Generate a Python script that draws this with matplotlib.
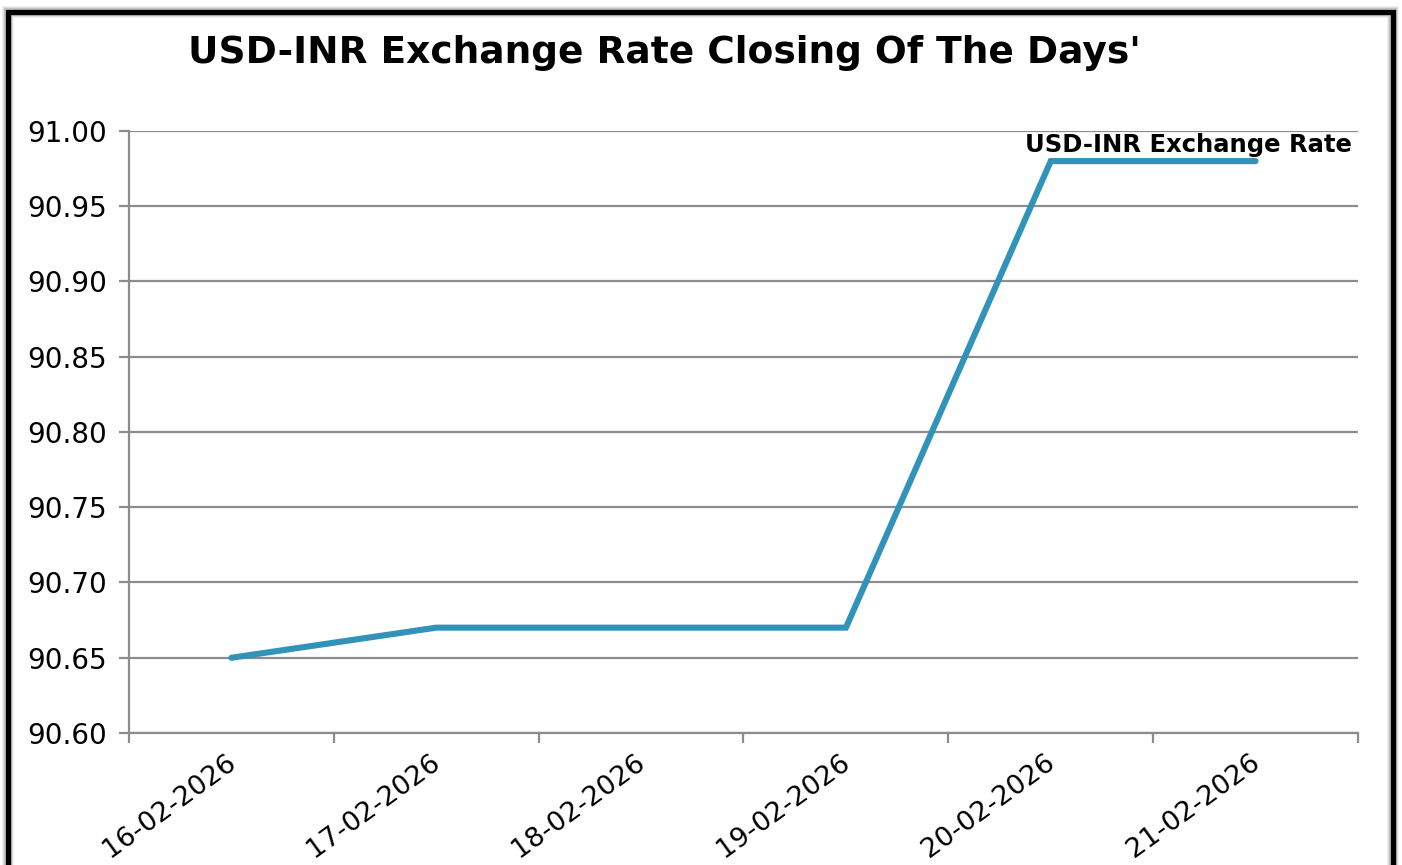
import matplotlib
matplotlib.use("Agg")
import matplotlib.pyplot as plt
import matplotlib.transforms as mtransforms
from matplotlib.patches import Rectangle

# data
dates = ["16-02-2026", "17-02-2026", "18-02-2026", "19-02-2026", "20-02-2026", "21-02-2026"]
rates = [90.65, 90.67, 90.67, 90.67, 90.98, 90.98]
y_ticks = [90.60, 90.65, 90.70, 90.75, 90.80, 90.85, 90.90, 90.95, 91.00]
series_name = "USD-INR Exchange Rate"
title = "USD-INR Exchange Rate Closing Of The Days'"

W, H = 1402, 865
fig = plt.figure(figsize=(W / 100, H / 100), dpi=100)
fig.patch.set_facecolor("white")

# outer frame with a soft glow, runs past the bottom edge
fx0, fx1, fy_top = 7.5, 1392.5, 12.5
for lw, a in [(12, 0.06), (10, 0.08), (8, 0.12)]:
    fig.patches.append(Rectangle((fx0 / W, -0.1), (fx1 - fx0) / W, (1 - fy_top / H) + 0.1,
                                 transform=fig.transFigure, fill=False,
                                 edgecolor="black", alpha=a, lw=lw * 0.72, zorder=0))
fig.patches.append(Rectangle((fx0 / W, -0.1), (fx1 - fx0) / W, (1 - fy_top / H) + 0.1,
                             transform=fig.transFigure, fill=False,
                             edgecolor="black", lw=3.8, zorder=1))

ax = fig.add_axes([129 / W, 1 - 733 / H, (1358 - 129) / W, (733 - 131) / H])
x = list(range(len(dates)))
ax.plot(x, rates, color="#3193BA", lw=4.4, solid_capstyle="round",
        solid_joinstyle="miter", zorder=3, clip_on=False)

ax.set_xlim(-0.5, len(dates) - 0.5)
ax.set_ylim(y_ticks[0], y_ticks[-1])
ax.set_yticks(y_ticks)
ax.set_yticklabels([f"{v:.2f}" for v in y_ticks], fontsize=20)
ax.yaxis.grid(True, color="#8c8c8c", lw=1.6)
ax.set_axisbelow(True)

ax.set_xticks([i - 0.5 for i in range(len(dates) + 1)])
ax.set_xticklabels([])
ax.set_xticks(x, minor=True)
ax.set_xticklabels(dates, minor=True, rotation=36, ha="right", va="top",
                   rotation_mode="anchor", fontsize=19.5)
ax.tick_params(axis="x", which="minor", length=0, pad=12)
ax.tick_params(axis="x", which="major", length=7, width=1.6, color="#8c8c8c")
ax.tick_params(axis="y", length=7, width=1.6, color="#8c8c8c", pad=9)

# nudge the date labels a little to the left
shift = mtransforms.ScaledTranslation(-6 / 100, 0, fig.dpi_scale_trans)
for lab in ax.get_xticklabels(minor=True):
    lab.set_transform(lab.get_transform() + shift)

for side in ["top", "right"]:
    ax.spines[side].set_visible(False)
for side in ["left", "bottom"]:
    ax.spines[side].set_color("#8c8c8c")
    ax.spines[side].set_linewidth(1.6)

ax.annotate(series_name, xy=(x[-1], rates[-1]), xytext=(96, 16),
            textcoords="offset pixels", ha="right", va="center",
            fontsize=17.5, fontweight="bold")

fig.text(664 / W, 1 - 53 / H, title, ha="center", va="center",
         fontsize=27, fontweight="bold")

fig.savefig("out.png", dpi=100)
